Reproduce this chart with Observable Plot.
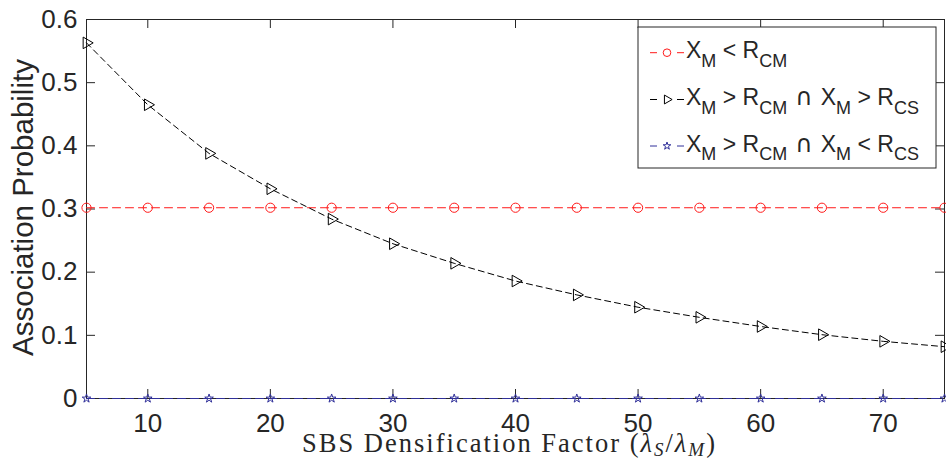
<!DOCTYPE html>
<html>
<head>
<meta charset="utf-8">
<script src="https://cdn.jsdelivr.net/npm/d3@7"></script>
<script src="https://cdn.jsdelivr.net/npm/@observablehq/plot@0.6"></script>
<style>
  html, body { margin: 0; padding: 0; background: #fff; }
  #chart { position: relative; width: 946px; height: 473px; }
</style>
</head>
<body>
<div id="chart"></div>
<script>
// ---- data ----
const densification = [5, 10, 15, 20, 25, 30, 35, 40, 45, 50, 55, 60, 65, 70, 75];
const probLessRCM = [0.302, 0.302, 0.302, 0.302, 0.302, 0.302, 0.302, 0.302, 0.302, 0.302, 0.302, 0.302, 0.302, 0.302, 0.302];
const probGreaterRCS = [0.563, 0.465, 0.388, 0.332, 0.284, 0.245, 0.214, 0.186, 0.164, 0.1445, 0.1285, 0.114, 0.101, 0.0905, 0.082];
const probLessRCS = [0, 0, 0, 0, 0, 0, 0, 0, 0, 0, 0, 0, 0, 0, 0];
const xTicks = [10, 20, 30, 40, 50, 60, 70];
const yTicks = [0, 0.1, 0.2, 0.3, 0.4, 0.5, 0.6];
const yTickLabels = ["0", "0.1", "0.2", "0.3", "0.4", "0.5", "0.6"];

const RED = "#ff1a1a", BLACK = "#000000", BLUE = "#30309a", AXIS = "#262626";

const rows = (ys) => densification.map((x, i) => ({x, y: ys[i]}));
const dRed = rows(probLessRCM), dBlack = rows(probGreaterRCS), dBlue = rows(probLessRCS);

const sans = "'Liberation Sans', Arial, Helvetica, sans-serif";

const W = 946, H = 473, mL = 86, mR = 2, mT = 19, mB = 75, TICK = 9;
const frameW = W - mL - mR, frameH = H - mT - mB;

const chart = Plot.plot({
  width: W,
  height: H,
  marginLeft: mL,
  marginRight: mR,
  marginTop: mT,
  marginBottom: mB,
  style: {fontFamily: sans, fontSize: "26px", color: AXIS, background: "#fff", overflow: "visible"},
  x: {domain: [5, 75]},
  y: {domain: [0, 0.6]},
  marks: [
    Plot.axisX({ticks: xTicks, tickSize: 0, tickPadding: 15, label: null, fontSize: 26, fill: AXIS}),
    Plot.axisY({ticks: yTicks, tickFormat: (d) => yTickLabels[yTicks.indexOf(d)], tickSize: 0, tickPadding: 9, label: null, fontSize: 26, fill: AXIS}),
    // inward ticks on all four sides
    Plot.tickX(xTicks, {x: (d) => d, insetTop: frameH - TICK, stroke: AXIS, strokeWidth: 1}),
    Plot.tickX(xTicks, {x: (d) => d, insetBottom: frameH - TICK, stroke: AXIS, strokeWidth: 1}),
    Plot.tickY(yTicks, {y: (d) => d, insetRight: frameW - TICK, stroke: AXIS, strokeWidth: 1}),
    Plot.tickY(yTicks, {y: (d) => d, insetLeft: frameW - TICK, stroke: AXIS, strokeWidth: 1}),
    Plot.frame({stroke: AXIS, strokeWidth: 1}),
    Plot.line(dRed, {x: "x", y: "y", stroke: RED, strokeWidth: 1, strokeDasharray: "8,5"}),
    Plot.dot(dRed, {x: "x", y: "y", r: 4.6, stroke: RED, strokeWidth: 1, fill: "none"}),
    Plot.line(dBlack, {x: "x", y: "y", stroke: BLACK, strokeWidth: 1, strokeDasharray: "6,4"}),
    Plot.dot(dBlack, {x: "x", y: "y", r: 4.3, symbol: "triangle", rotate: 90, stroke: BLACK, strokeWidth: 1, fill: "none"}),
    Plot.line(dBlue, {x: "x", y: "y", stroke: BLUE, strokeWidth: 1, strokeDasharray: "8,5"}),
    Plot.dot(dBlue, {x: "x", y: "y", r: 2.7, symbol: "star", stroke: BLUE, strokeWidth: 1, fill: "none"})
  ]
});

document.getElementById("chart").appendChild(chart);

const svg = d3.select(chart);

// Y axis label
svg.append("text")
  .attr("transform", "translate(33,207.5) rotate(-90)")
  .attr("text-anchor", "middle")
  .attr("font-family", sans)
  .attr("font-size", 29.5)
  .attr("fill", AXIS)
  .text("Association Probability");

// X axis label (LaTeX-like)
const xl = svg.append("text")
  .attr("x", 302).attr("y", 452)
  .attr("text-anchor", "start")
  .attr("font-family", "'Liberation Serif', 'Times New Roman', serif")
  .attr("font-size", 26.5)
  .attr("textLength", 413)
  .attr("lengthAdjust", "spacing")
  .attr("fill", AXIS);
xl.append("tspan").text("SBS Densification Factor (");
xl.append("tspan").attr("font-style", "italic").text("λ");
xl.append("tspan").attr("font-style", "italic").attr("font-size", 19).attr("dy", 4).text("S");
xl.append("tspan").attr("dy", -4).text("/");
xl.append("tspan").attr("font-style", "italic").text("λ");
xl.append("tspan").attr("font-style", "italic").attr("font-size", 19).attr("dy", 4).text("M");
xl.append("tspan").attr("dy", -4).text(")");

// Legend
const lg = svg.append("g").attr("font-family", sans).attr("fill", AXIS).attr("text-anchor", "start");
lg.append("rect").attr("x", 638).attr("y", 27).attr("width", 298).attr("height", 141)
  .attr("fill", "#fff").attr("stroke", AXIS).attr("stroke-width", 1);

const legendItems = [
  {color: RED, sym: d3.symbolCircle, size: Math.PI * 3.8 * 3.8, rot: 0,
   parts: [["X"], ["M", 1], [" < R"], ["CM", 1]]},
  {color: BLACK, sym: d3.symbolTriangle, size: Math.PI * 3.3 * 3.3, rot: 90,
   parts: [["X"], ["M", 1], [" > R"], ["CM", 1], ["∩", 0, 8, true], ["X", 0, 8], ["M", 1], [" > R"], ["CS", 1]]},
  {color: BLUE, sym: d3.symbolStar, size: Math.PI * 2.4 * 2.4, rot: 0,
   parts: [["X"], ["M", 1], [" > R"], ["CM", 1], ["∩", 0, 8, true], ["X", 0, 8], ["M", 1], [" < R"], ["CS", 1]]}
];
const rowY = [52.7, 99.5, 146];
legendItems.forEach((it, i) => {
  const cy = rowY[i];
  lg.append("line").attr("x1", 650).attr("x2", 684).attr("y1", cy).attr("y2", cy)
    .attr("stroke", it.color).attr("stroke-width", 1).attr("stroke-dasharray", "7,20");
  lg.append("path").attr("d", d3.symbol(it.sym, it.size)())
    .attr("transform", `translate(667,${cy}) rotate(${it.rot})`)
    .attr("fill", "none").attr("stroke", it.color).attr("stroke-width", 1);
  const t = lg.append("text").attr("x", 686).attr("y", cy + 5.6).attr("font-size", 23)
    .style("white-space", "pre");
  let sub = false;
  it.parts.forEach(([s, isSub, dx, cap]) => {
    const ts = t.append("tspan").text(s);
    if (dx) ts.attr("dx", dx);
    if (cap) ts.attr("font-family", "'DejaVu Sans', sans-serif").attr("font-size", 24);
    if (isSub && !sub) { ts.attr("dy", 8.4).attr("font-size", 18); sub = true; }
    else if (isSub) { ts.attr("font-size", 18); }
    else if (!isSub && sub) { ts.attr("dy", -8.4); sub = false; }
  });
});
</script>
</body>
</html>
